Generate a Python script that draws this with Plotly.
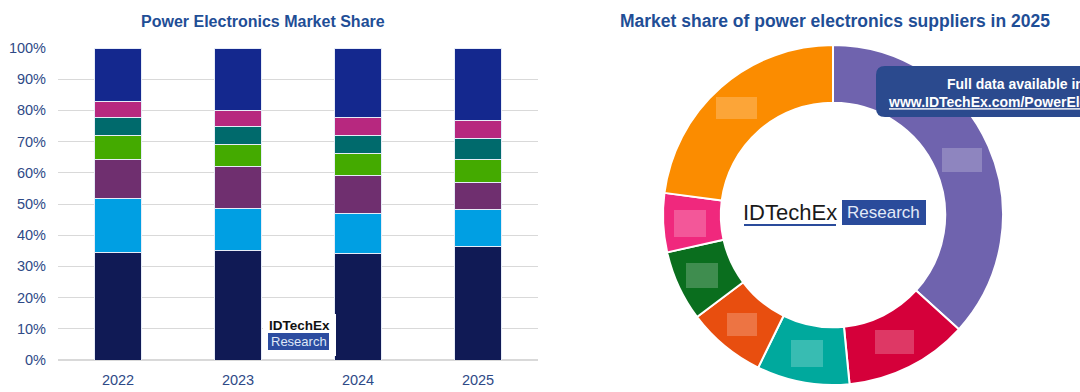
import plotly.graph_objects as go

# ---------------- data ----------------
years = ["2022", "2023", "2024", "2025"]
series_names = ["Supplier 1", "Supplier 2", "Supplier 3", "Supplier 4",
                "Supplier 5", "Supplier 6", "Others"]
s1 = [34.6, 35.0, 34.0, 36.3]
s2 = [17.3, 13.6, 12.8, 11.8]
s3 = [12.5, 13.4, 12.2, 8.8]
s4 = [7.6, 7.1, 7.3, 7.5]
s5 = [5.7, 5.7, 5.7, 6.5]
s6 = [5.2, 5.2, 5.6, 6.0]
others = [17.1, 20.0, 22.4, 23.1]
bar_colors = ["#101a55", "#009fe3", "#6f2f6f", "#44aa00", "#006a6c", "#b7287f", "#14288e"]

donut_labels = ["Supplier 1", "Supplier 2", "Supplier 3", "Supplier 4",
                "Supplier 5", "Supplier 6", "Others"]
donut_values = [36.7, 11.7, 8.8, 7.5, 6.7, 5.6, 22.9]
donut_colors = ["#6f63ae", "#d5003a", "#00a99d", "#e84e0f", "#0a6e1e", "#f0287d", "#fb8c00"]

yticks = [0, 10, 20, 30, 40, 50, 60, 70, 80, 90, 100]
ytick_text = [f"{v}%" for v in yticks]

W, H = 1080, 392
FONT = "Liberation Sans, Arial, sans-serif"
TITLE_C = "#1f4e96"
TICK_C = "#2e4a87"


def px(x):
    return x / W


def py(y):
    return 1 - y / H


fig = go.Figure()
for name, vals, col in zip(series_names, [s1, s2, s3, s4, s5, s6, others], bar_colors):
    fig.add_trace(go.Bar(x=years, y=vals, name=name, marker_color=col,
                         marker_line=dict(color="#e6ecf7", width=1),
                         hoverinfo="x+y+name"))

fig.add_trace(go.Pie(labels=donut_labels, values=donut_values, hole=0.66,
                     sort=False, direction="clockwise", rotation=0,
                     marker=dict(colors=donut_colors, line=dict(color="white", width=2)),
                     textinfo="none",
                     domain=dict(x=[px(663), px(1003)], y=[py(385), py(45)])))

fig.update_layout(
    width=W, height=H, autosize=False,
    margin=dict(l=0, r=0, t=0, b=0, autoexpand=False),
    paper_bgcolor="white", plot_bgcolor="white",
    barmode="stack", bargap=0.61, showlegend=False,
    font=dict(family=FONT, color=TICK_C),
    xaxis=dict(domain=[px(58), px(538)], showgrid=False, showline=False,
               automargin=False, ticks="", ticklabelstandoff=9,
               tickfont=dict(size=14.5, color=TICK_C)),
    yaxis=dict(domain=[py(360), py(48)], range=[0, 100], tickvals=yticks,
               ticktext=ytick_text, showgrid=True, gridcolor="#d9d9d9",
               gridwidth=1, zeroline=True, zerolinecolor="#d9d9d9",
               automargin=False, showline=False, ticks="", ticklabelstandoff=11,
               tickfont=dict(size=14.5, color=TICK_C)),
)

shapes = []
anns = []


def ann(text, x, y, size, color, **kw):
    d = dict(text=text, x=px(x), y=py(y), xref="paper", yref="paper",
             showarrow=False, xanchor="center", yanchor="middle",
             font=dict(size=size, color=color, family=FONT))
    d.update(kw)
    anns.append(d)


# titles
ann("<b>Power Electronics Market Share</b>", 263, 21, 16, TITLE_C)
ann("<b>Market share of power electronics suppliers in 2025</b>", 834.5, 21, 17.5, TITLE_C)

# small logo on bar chart
shapes.append(dict(type="rect", xref="paper", yref="paper", x0=px(263), x1=px(336),
                   y0=py(356), y1=py(314), fillcolor="white", line_width=0, layer="above"))
ann("<b>IDTechEx</b>", 299, 325, 13.5, "#111111")
shapes.append(dict(type="rect", xref="paper", yref="paper", x0=px(268), x1=px(329),
                   y0=py(350), y1=py(333), fillcolor="#2c4ca0", line_width=0, layer="above"))
ann("Research", 298.5, 341.5, 13, "#dfe7f7")

# big logo in donut centre
ann("IDTechEx", 790, 212, 22, "#1a1a1a")
shapes.append(dict(type="line", xref="paper", yref="paper", x0=px(744), x1=px(836),
                   y0=py(225), y1=py(225), line=dict(color="#2a4b9b", width=2)))
shapes.append(dict(type="rect", xref="paper", yref="paper", x0=px(842), x1=px(926),
                   y0=py(225), y1=py(200), fillcolor="#2a4b9b", line_width=0))
ann("Research", 883.5, 212.5, 17, "#e3eaf8")

# blurred label placeholders on donut
for (x0, y0, x1, y1) in [(716, 97, 757, 119), (942, 148, 982, 172), (674, 210, 706, 237),
                         (686, 263, 718, 288), (727, 313, 757, 336), (791, 340, 823, 367),
                         (875, 330, 914, 354)]:
    shapes.append(dict(type="rect", xref="paper", yref="paper", x0=px(x0), x1=px(x1),
                       y0=py(y1), y1=py(y0), fillcolor="rgba(255,255,255,0.22)",
                       line_width=0, layer="above"))

# data badge (rounded rectangle, cropped by right edge)
bx0, by0, bx1, by1, r = 876, 66, 1110, 117, 9
path = (f"M {px(bx0 + r)},{py(by0)} L {px(bx1)},{py(by0)} L {px(bx1)},{py(by1)} "
        f"L {px(bx0 + r)},{py(by1)} Q {px(bx0)},{py(by1)} {px(bx0)},{py(by1 - r)} "
        f"L {px(bx0)},{py(by0 + r)} Q {px(bx0)},{py(by0)} {px(bx0 + r)},{py(by0)} Z")
shapes.append(dict(type="path", xref="paper", yref="paper", path=path,
                   fillcolor="#2b4a8e", line_width=0, layer="above"))
ann("<b>Full data available in</b><br><b><u>www.IDTechEx.com/PowerElectronics</u></b>",
    1014.5, 93.5, 14, "white", align="center")

fig.update_layout(shapes=shapes, annotations=anns)

fig.write_html("out.html", config={"displayModeBar": False},
               post_script="document.body.style.margin='0';")
